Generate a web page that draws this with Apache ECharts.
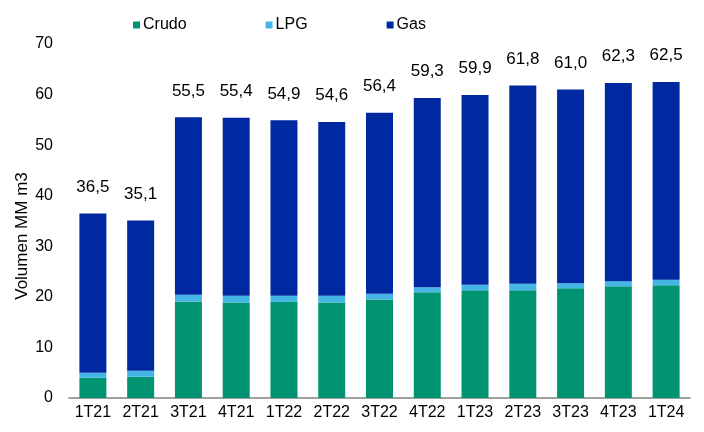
<!DOCTYPE html>
<html>
<head>
<meta charset="utf-8">
<script src="https://cdn.jsdelivr.net/npm/echarts@6/dist/echarts.min.js"></script>
<style>html,body{margin:0;padding:0;background:#fff}#c{width:704px;height:432px}</style>
</head>
<body>
<div id="c"></div>
<script>
var categories = ['1T21','2T21','3T21','4T21','1T22','2T22','3T22','4T22','1T23','2T23','3T23','4T23','1T24'];
var crudo = [4.0, 4.2, 19.1, 18.9, 19.0, 18.9, 19.5, 20.9, 21.3, 21.3, 21.7, 22.1, 22.3];
var lpg   = [1.0, 1.2, 1.3, 1.3, 1.2, 1.3, 1.1, 1.0, 1.1, 1.3, 1.0, 1.0, 1.1];
var gas   = [31.5, 29.7, 35.1, 35.2, 34.7, 34.4, 35.8, 37.4, 37.5, 39.2, 38.3, 39.2, 39.1];
var totals = ['36,5','35,1','55,5','55,4','54,9','54,6','56,4','59,3','59,9','61,8','61,0','62,3','62,5'];
var yTicks = [0, 10, 20, 30, 40, 50, 60, 70];

var font = 'Liberation Sans, Arial, sans-serif';
var chart = echarts.init(document.getElementById('c'));
chart.setOption({
  animation: false,
  textStyle: {fontFamily: font},
  legend: {
    left: 128, top: 12, itemWidth: 7, itemHeight: 7, itemGap: 79,
    icon: 'rect',
    textStyle: {fontSize: 16, color: '#000', fontFamily: font, padding: [0,0,0,-2]},
    data: ['Crudo','LPG','Gas']
  },
  grid: {left: 69, right: 14, top: 44, bottom: 34},
  xAxis: {
    type: 'category', data: categories,
    axisLine: {lineStyle: {color: '#808080', width: 1.5}},
    axisTick: {show: false},
    axisLabel: {color: '#000', fontSize: 16, margin: 7, fontFamily: font}
  },
  yAxis: {
    type: 'value', min: yTicks[0], max: yTicks[yTicks.length-1], interval: 10,
    name: 'Volumen MM m3', nameLocation: 'middle', nameGap: 38, nameRotate: 90,
    nameMoveOverlap: false,
    nameTextStyle: {fontSize: 17, color: '#000', fontFamily: font, padding: [0, 30, 0, 0]},
    axisLine: {show: false}, axisTick: {show: false}, splitLine: {show: false},
    axisLabel: {color: '#000', fontSize: 16, margin: 16, fontFamily: font}
  },
  series: [
    {name: 'Crudo', type: 'bar', stack: 't', data: crudo, barWidth: 27,
     itemStyle: {color: '#009473'}},
    {name: 'LPG', type: 'bar', stack: 't', data: lpg,
     itemStyle: {color: '#45b5e6'}},
    {name: 'Gas', type: 'bar', stack: 't', data: gas,
     itemStyle: {color: '#0028a0'},
     label: {show: true, position: 'top', distance: 18, fontSize: 17, color: '#000', fontFamily: font,
       formatter: function (p) { return totals[p.dataIndex]; }}}
  ]
});
</script>
</body>
</html>
